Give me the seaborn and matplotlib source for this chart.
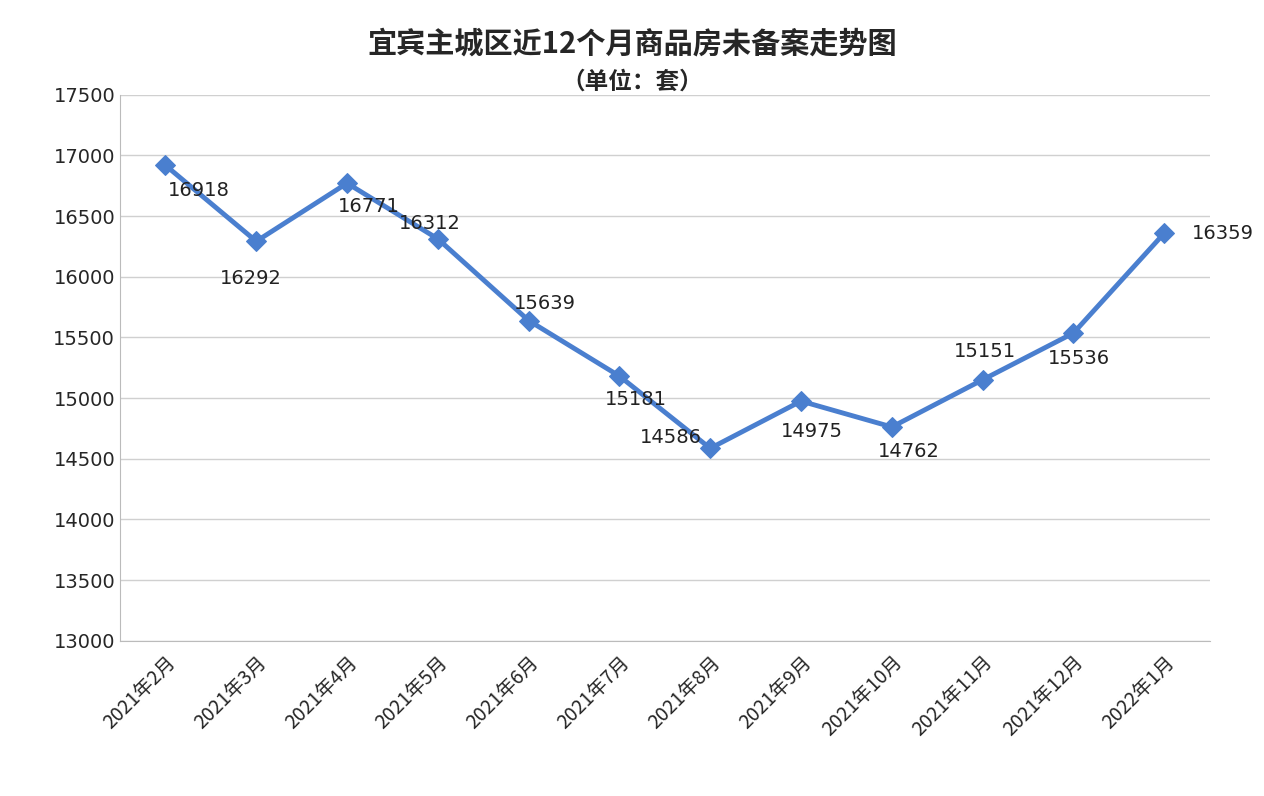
import matplotlib
matplotlib.use("Agg")
import matplotlib.pyplot as plt
import seaborn as sns
import pandas as pd

months = ["2021年2月", "2021年3月", "2021年4月", "2021年5月", "2021年6月", "2021年7月",
          "2021年8月", "2021年9月", "2021年10月", "2021年11月", "2021年12月", "2022年1月"]
units = [16918, 16292, 16771, 16312, 15639, 15181, 14586, 14975, 14762, 15151, 15536, 16359]
# label offsets in points (dx, dy)
label_offsets = [(24, -18), (-4, -27), (16, -17), (-6, 11), (12, 12), (12, -17),
                 (-28, 8), (8, -22), (12, -18), (2, 20), (4, -18), (42, 0)]

sns.set_style("white")
plt.rcParams["font.family"] = ["DejaVu Sans", "Noto Sans CJK SC"]

df = pd.DataFrame({"month": months, "units": units, "x": range(len(months))})

fig = plt.figure(figsize=(12.64, 7.96), dpi=100)
ax = fig.add_axes([0.095, 0.195, 0.862, 0.686])
sns.lineplot(data=df, x="x", y="units", ax=ax, color="#4a7fcf", linewidth=3.5,
             marker="D", markersize=10, markeredgecolor="#4a7fcf")

for i, v in enumerate(units):
    dx, dy = label_offsets[i]
    ax.annotate(str(v), (i, v), xytext=(dx, dy), textcoords="offset points",
                ha="center", va="center", fontsize=14, color="#222222")

ax.set_ylim(13000, 17500)
ax.set_yticks(range(13000, 17501, 500))
ax.set_xlim(-0.5, len(months) - 0.5)
ax.set_xticks(range(len(months)))
ax.set_xticklabels(months, rotation=45, ha="right", rotation_mode="anchor", fontsize=14,
                   family=["Noto Sans CJK SC", "DejaVu Sans"])
ax.tick_params(axis="y", labelsize=14, length=0)
ax.tick_params(axis="x", length=0, pad=8)
ax.yaxis.grid(True, color="#d0d0d0", linewidth=1)
for s in ["top", "right"]:
    ax.spines[s].set_visible(False)
ax.spines["left"].set_color("#bbbbbb")
ax.spines["bottom"].set_color("#bbbbbb")
ax.set_xlabel("")
ax.set_ylabel("")

cjk = ["Noto Sans CJK SC", "DejaVu Sans"]
fig.text(0.5, 0.945, "宜宾主城区近12个月商品房未备案走势图", ha="center", va="center",
         fontsize=21, fontweight="bold", family=cjk)
fig.text(0.5, 0.898, "（单位：套）", ha="center", va="center", fontsize=17,
         fontweight="bold", family=cjk)

fig.savefig("out.png", dpi=100)
